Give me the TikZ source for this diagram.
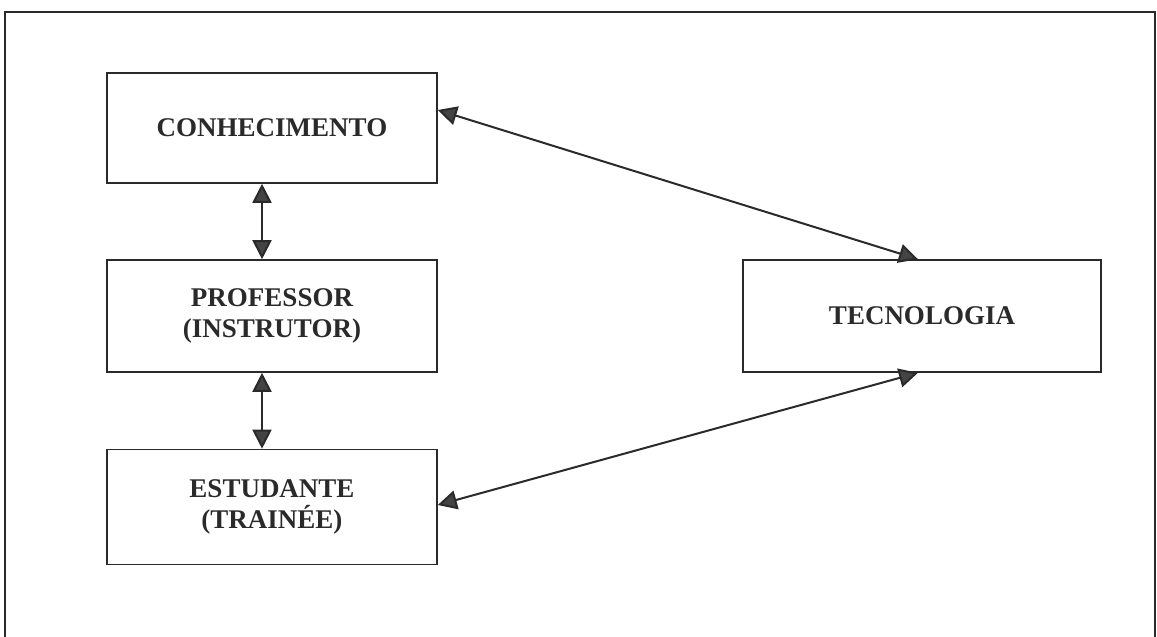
\documentclass[tikz,border=0pt]{standalone}
\usepackage{fontspec}
\setmainfont{Liberation Serif}
\usetikzlibrary{arrows.meta}
\definecolor{ink}{HTML}{2A2A2A}
\definecolor{headfill}{HTML}{444444}
\tikzset{
  boxnode/.style={draw=ink, line width=1.6pt, minimum width=330pt, inner sep=0pt,
    font=\fontsize{27}{31}\selectfont\bfseries, text=ink, align=center},
  link/.style={draw=ink, line width=2pt,
    {Triangle[length=19pt,width=19pt,fill=headfill]}-{Triangle[length=19pt,width=19pt,fill=headfill]}}
}
\begin{document}
\begin{tikzpicture}[x=1pt,y=-1pt]
\useasboundingbox (0,0) rectangle (1157,637);
\draw[ink, line width=2pt] (5,640) -- (5,12) -- (1155,12) -- (1155,640);
\node[boxnode, minimum height=110pt] (conh) at (272,128) {CONHECIMENTO};
\node[boxnode, minimum height=112pt] (prof) at (272,316) {PROFESSOR\\(INSTRUTOR)};
\node[boxnode, minimum height=115pt] (est) at (272,507) {ESTUDANTE\\(TRAINÉE)};
\node[boxnode, minimum width=358pt, minimum height=112pt] (tec) at (922,316) {TECNOLOGIA};
\draw[link] ([yshift=18pt]conh.east) -- ([xshift=-4pt]tec.north);
\draw[link] ([xshift=-4pt]tec.south) -- ([yshift=2pt]est.east);
\draw[link] ([xshift=-10pt]conh.south) -- ([xshift=-10pt]prof.north);
\draw[link] ([xshift=-10pt]prof.south) -- ([xshift=-10pt]est.north);
\end{tikzpicture}
\end{document}
